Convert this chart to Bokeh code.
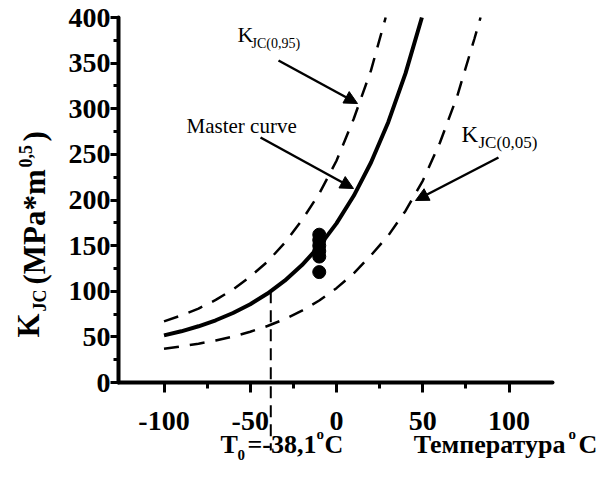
import math
from bokeh.plotting import figure
from bokeh.models import (Label, Arrow, NormalHead, LinearAxis, FixedTicker, Range1d)
from bokeh.embed import file_html
from bokeh.resources import INLINE

# ---------------- data ----------------
temps_master = [-100, -90, -80, -70, -60, -50, -40, -30, -20, -10, 0, 10, 20, 30, 40, 49.5]
kjc_master = [51.6, 56.1, 61.6, 68.2, 76.2, 85.8, 97.5, 111.6, 128.7, 149.4, 174.4, 204.6,
              241.1, 285.3, 338.7, 400]

temps_upper = [-100, -90, -80, -70, -60, -50, -40, -30, -20, -10, 0, 10, 20, 28.5]
kjc_upper = [67, 73.5, 81, 90.5, 102, 116, 132.5, 153, 178, 207, 243, 289, 342, 400]

temps_lower = [-100, -90, -80, -70, -60, -50, -40, -30, -20, -10, 0, 10, 20, 30, 40, 50,
               60, 70, 80, 83.5]
kjc_lower = [37.1, 39.5, 42.5, 46.0, 50.3, 55.6, 61.9, 69.5, 78.7, 89.9, 103.4, 119.7,
             139.4, 161, 188, 221, 263, 314, 377, 400]

test_temps = [-10, -10, -10, -10, -10, -10]
test_kjc = [162, 156, 150, 144, 138, 121]

t0 = -38.1
t0_kjc = 100

x_ticks = [-100, -50, 0, 50, 100]
x_minor = [-75, -25, 25, 75]
y_ticks = [0, 50, 100, 150, 200, 250, 300, 350, 400]
y_minor = [25, 75, 125, 175, 225, 275, 325, 375]

# ---------------- layout (pixel geometry) ----------------
W, H = 600, 466
X0, SX = 336.0, 1.725     # canvas x of T=0, px per degree
Y0, SY = 382.0, 0.9125    # canvas y of K=0, px per unit


def px(x):
    return (x - X0) / SX


def py(y):
    return (Y0 - y) / SY


p = figure(width=W, height=H, x_range=Range1d(px(0), px(W)), y_range=Range1d(py(H), py(0)),
           x_axis_type=None, y_axis_type=None, toolbar_location=None, output_backend="svg",
           min_border=0, outline_line_color=None, background_fill_color="white",
           border_fill_color="white")

SERIF = "Liberation Serif"


def style_axis(ax, major_out, minor_out):
    ax.axis_line_width = 4
    ax.axis_line_color = "black"
    ax.axis_line_cap = "round"
    ax.major_tick_line_width = 3
    ax.major_tick_line_color = "black"
    ax.major_tick_in = 0
    ax.major_tick_out = major_out
    ax.minor_tick_line_width = 3
    ax.minor_tick_line_color = "black"
    ax.minor_tick_in = 0
    ax.minor_tick_out = minor_out
    ax.major_label_text_font = SERIF
    ax.major_label_text_font_style = "bold"
    ax.major_label_text_font_size = "28px"
    ax.major_label_text_color = "black"


xaxis = LinearAxis(fixed_location=0, bounds=(px(118), 125),
                   ticker=FixedTicker(ticks=x_ticks, minor_ticks=x_minor))
style_axis(xaxis, 10, 6)
xaxis.major_label_standoff = 19
xaxis.major_label_overrides = {t: str(t) for t in x_ticks}
p.add_layout(xaxis, "below")

yaxis = LinearAxis(fixed_location=px(118), bounds=(0, 400),
                   ticker=FixedTicker(ticks=y_ticks, minor_ticks=y_minor))
style_axis(yaxis, 8, 5)
yaxis.major_label_standoff = 0
p.add_layout(yaxis, "left")

# ---------------- curves ----------------
p.line(temps_upper, kjc_upper, line_width=2.5, line_color="black", line_dash="15 11")
p.line(temps_lower, kjc_lower, line_width=2.5, line_color="black", line_dash="15 11")
p.line(temps_master, kjc_master, line_width=4, line_color="black")
p.line([t0, t0], [t0_kjc, py(450)], line_width=2, line_color="black", line_dash="12 7")
p.scatter(test_temps, test_kjc, size=13, color="black")


# ---------------- arrows ----------------
def arrow(x0, y0, x1, y1):
    p.add_layout(Arrow(x_start=px(x0), y_start=py(y0), x_end=px(x1), y_end=py(y1),
                       line_width=2.5, line_color="black",
                       end=NormalHead(size=13, fill_color="black", fill_alpha=1.0,
                                      line_color="black")))


arrow(278, 60, 357, 103)
arrow(260, 137, 353, 188)
arrow(498, 157, 415, 200)


# ---------------- texts ----------------
SHIFT = 0.36  # em; compensates the drawn baseline offset


def lab(x, y, text, size, bold=False, rotated=False, align="left"):
    s = float(size.replace("px", ""))
    if rotated:
        x = x - SHIFT * s
        angle = math.pi / 2
    else:
        y = y - SHIFT * s
        angle = 0.0
    p.add_layout(Label(x=px(x), y=py(y), text=text, text_font=SERIF, text_font_size=size,
                       text_font_style="bold" if bold else "normal", text_color="black",
                       angle=angle, text_align=align, text_baseline="alphabetic"))


# K_JC(0,95)
lab(237, 42, "K", "22px")
lab(251, 48, "JC(0,95)", "14px")
# Master curve
lab(186, 133, "Master curve", "21px")
# K_JC(0,05)
lab(461, 142, "K", "23px")
lab(478, 148, "JC(0,05)", "17px")

# Y axis title (rotated pieces, reading bottom to top)
lab(39, 337, "K", "31px", True, True)
lab(46, 311, "JC", "18px", True, True)
lab(45, 284, "(MPa*m", "31px", True, True)
lab(31, 167, "0,5", "18px", True, True)
lab(45, 141, ")", "31px", True, True)

# X axis title
lab(565, 453, "Температура", "26px", True, False, "right")
lab(568, 439, "o", "15px", True)
lab(578, 453, "C", "26px", True)

# T0 label
lab(220, 453, "T", "26px", True)
lab(237, 460, "0", "15px", True)
lab(247, 453, "=-38,1", "26px", True)
lab(316, 439, "o", "15px", True)
lab(324, 453, "C", "26px", True)

open("out.html", "w").write(file_html(p, INLINE))
